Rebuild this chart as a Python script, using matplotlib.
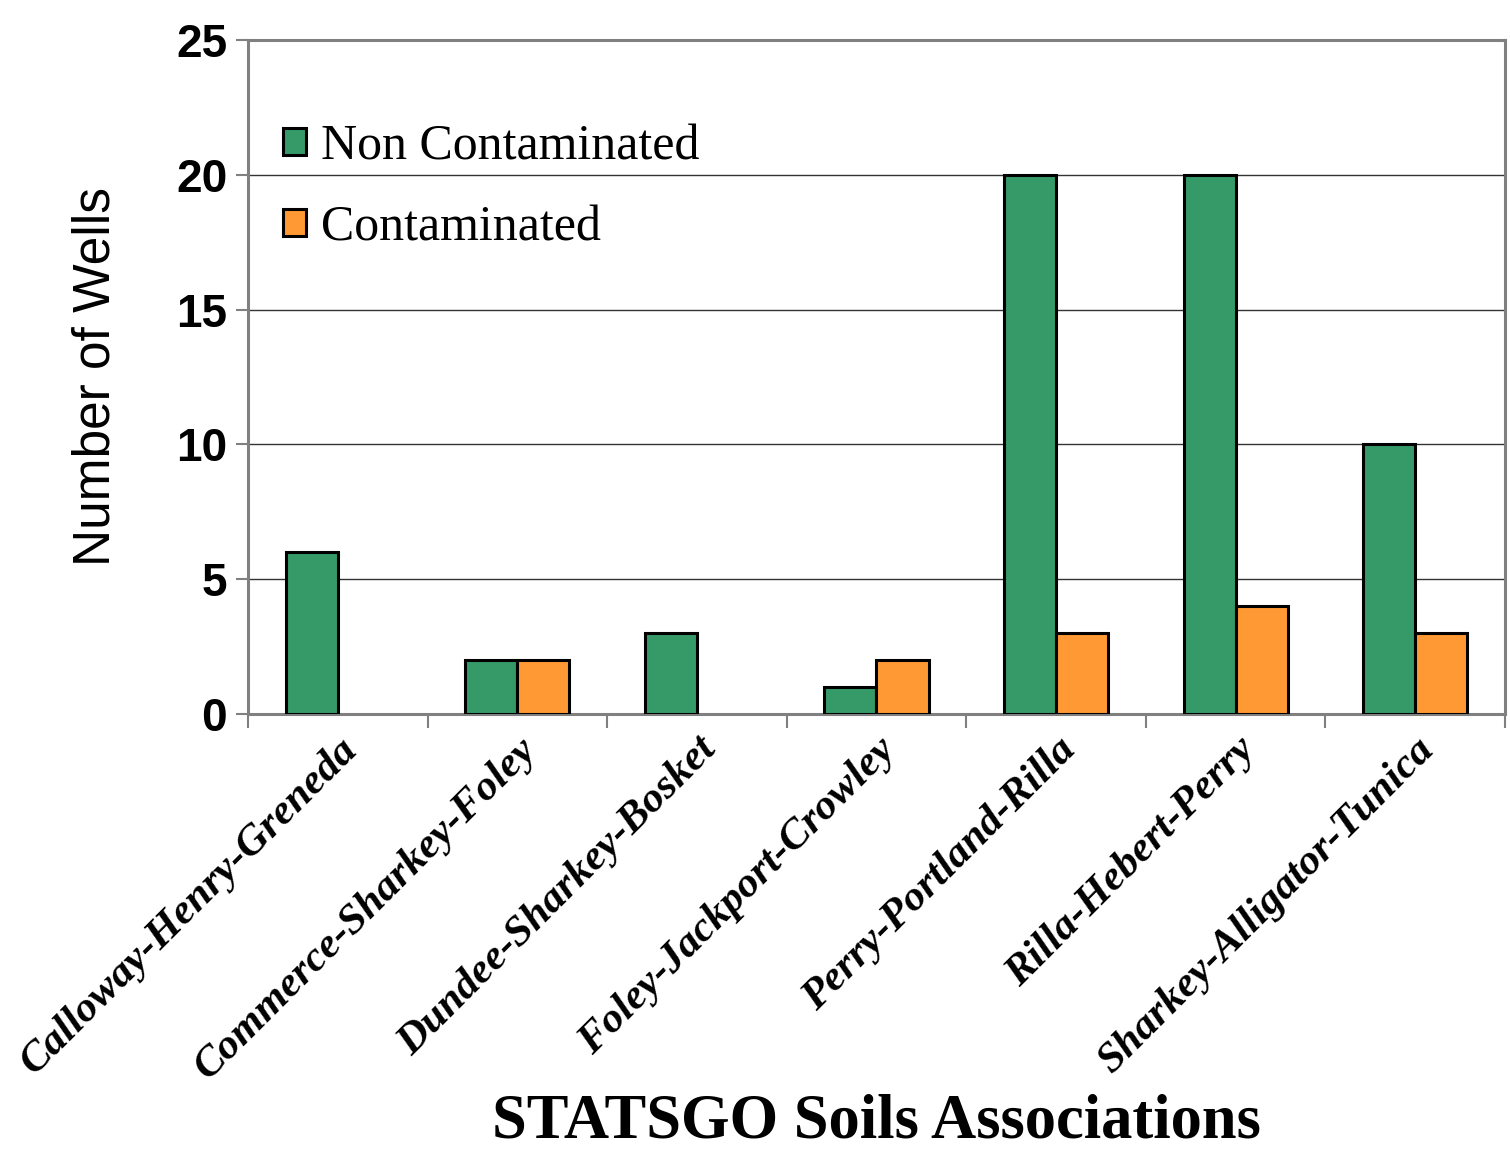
import matplotlib
matplotlib.use("Agg")
import matplotlib.pyplot as plt
from matplotlib.patches import Patch
import numpy as np

categories = ["Calloway-Henry-Greneda", "Commerce-Sharkey-Foley", "Dundee-Sharkey-Bosket",
              "Foley-Jackport-Crowley", "Perry-Portland-Rilla", "Rilla-Hebert-Perry",
              "Sharkey-Alligator-Tunica"]
non_contaminated = [6, 2, 3, 1, 20, 20, 10]
contaminated = [0, 2, 0, 2, 3, 4, 3]
yticks = [0, 5, 10, 15, 20, 25]

green = "#359A68"
orange = "#FF9933"

fig = plt.figure(figsize=(15.1, 11.53), dpi=100)
ax = fig.add_axes([248/1510, 1-714/1153, (1505-248)/1510, (714-40)/1153])

x = np.arange(len(categories))
w = 0.29
b1 = ax.bar(x - w/2, non_contaminated, w, color=green, edgecolor="black", linewidth=2.2,
            zorder=3)
b2 = ax.bar(x + w/2, contaminated, w, color=orange, edgecolor="black", linewidth=2.2,
            zorder=3)
for p in list(b1) + list(b2):
    if p.get_height() == 0:
        p.set_visible(False)

ax.set_xlim(-0.5, len(categories) - 0.5)
ax.set_ylim(0, 25)
ax.set_yticks(yticks)
ax.set_yticklabels([str(v) for v in yticks], fontfamily="Liberation Sans",
                   fontweight="bold", fontsize=33)
for y in yticks[1:-1]:
    ax.axhline(y, color="#333333", linewidth=1.0, zorder=1)

ax.set_xticks(x)
ax.set_xticklabels(categories, rotation=45, ha="right", va="top", rotation_mode="anchor",
                   fontfamily="Liberation Serif", fontweight="bold", fontstyle="italic",
                   fontsize=31)
ax.set_xticks(np.arange(-0.5, len(categories)), minor=True)
ax.tick_params(axis="x", which="major", length=0, pad=12)
ax.tick_params(axis="x", which="minor", length=10, width=1.5, color="#808080", direction="out")
ax.tick_params(axis="y", length=9, width=1.5, color="#808080", direction="out", pad=6)

for s in ax.spines.values():
    s.set_color("#808080")
    s.set_linewidth(2.2)

ax.set_ylabel("Number of Wells", fontfamily="Liberation Sans", fontsize=37, labelpad=40)
fig.text(876/1510, 1-1151/1153, "STATSGO Soils Associations", ha="center", va="bottom",
         fontfamily="Liberation Serif", fontweight="bold", fontsize=45)

handles = [Patch(facecolor=green, edgecolor="black", linewidth=2.2),
           Patch(facecolor=orange, edgecolor="black", linewidth=2.2)]
leg = ax.legend(handles, ["Non Contaminated", "Contaminated"],
                loc="upper left", bbox_to_anchor=(0.012, 0.905), frameon=False,
                prop={"family": "Liberation Serif", "size": 36},
                handlelength=0.45, handleheight=0.45, handletextpad=0.3,
                labelspacing=0.68, borderaxespad=0)

fig.savefig("out.png", dpi=100, facecolor="white")
